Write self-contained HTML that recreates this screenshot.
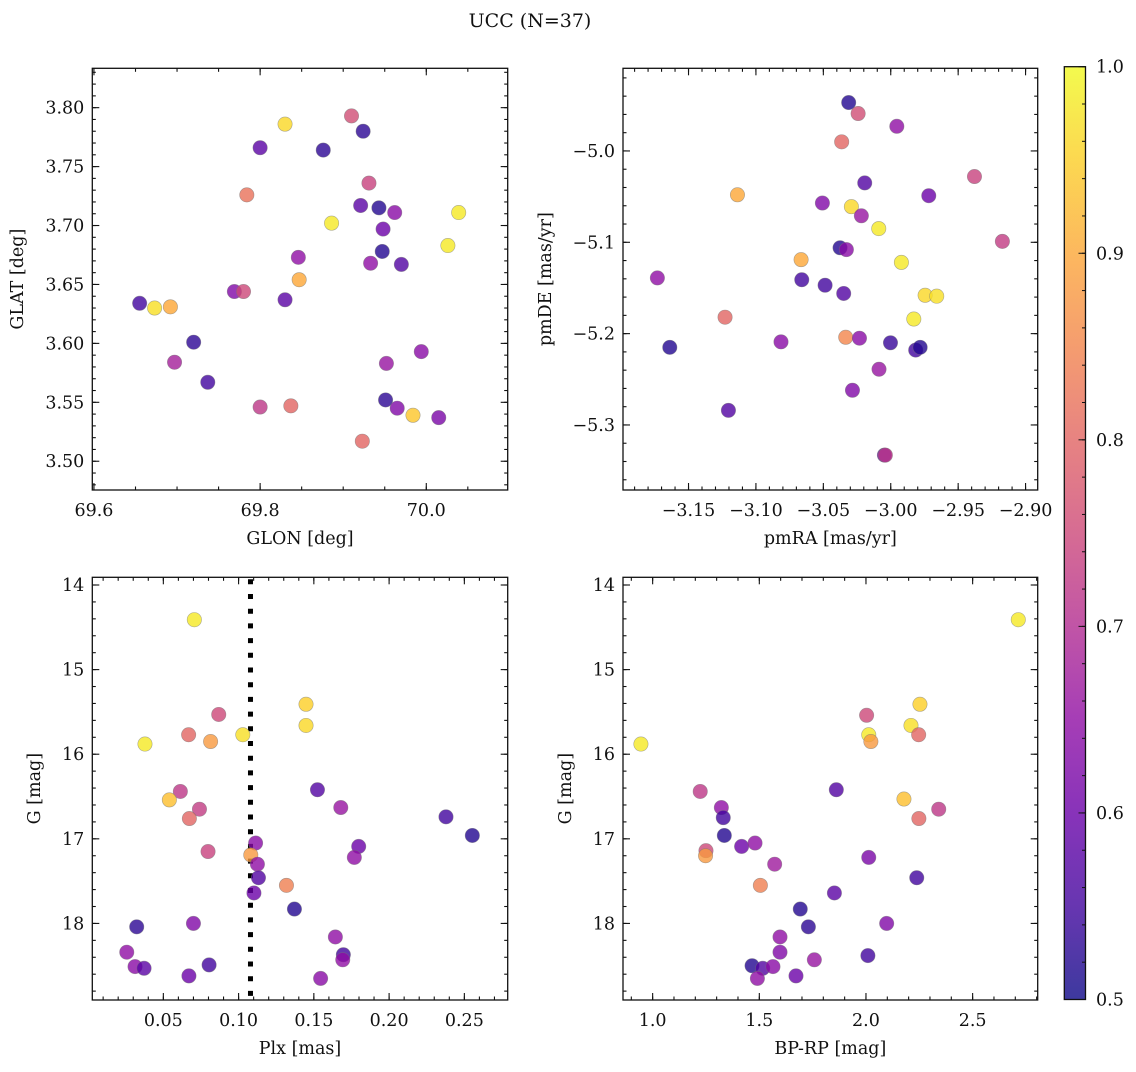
<!DOCTYPE html>
<html><head><meta charset="utf-8"><style>
body{margin:0;background:#fff;width:1136px;height:1067px;overflow:hidden}
svg text{font-family:"DejaVu Serif","Liberation Serif",serif;fill:#111}
</style></head><body>
<svg id="fig" width="1136" height="1067" xmlns="http://www.w3.org/2000/svg">
<defs><linearGradient id="cbgrad" x1="0" y1="1" x2="0" y2="0">
<stop offset="0" stop-color="#0d0887"/></linearGradient></defs>
<text x="530" y="27" font-size="19" text-anchor="middle">UCC (N=37)</text>
</svg>
<script>
// ---- data ----
const glon=[69.655,69.673,69.692,69.697,69.720,69.737,69.769,69.780,69.784,69.800,69.800,69.830,69.830,69.837,69.846,69.847,69.876,69.886,69.910,69.924,69.921,69.923,69.931,69.933,69.943,69.948,69.947,69.951,69.952,69.962,69.965,69.970,69.984,69.994,70.015,70.026,70.039];
const glat=[3.634,3.630,3.631,3.584,3.601,3.567,3.644,3.644,3.726,3.766,3.546,3.786,3.637,3.547,3.673,3.654,3.764,3.702,3.793,3.780,3.717,3.517,3.736,3.668,3.715,3.697,3.678,3.552,3.583,3.711,3.545,3.667,3.539,3.593,3.537,3.683,3.711];
const probPos=[.55,.97,.9,.68,.53,.55,.63,.75,.82,.58,.72,.96,.58,.8,.65,.9,.53,.98,.76,.53,.58,.8,.74,.65,.52,.6,.52,.53,.66,.64,.63,.57,.94,.64,.62,.98,.98];
const pmra=[-3.0312,-3.0242,-2.9955,-3.0364,-2.9379,-3.0193,-3.1137,-2.9718,-3.0507,-3.0292,-3.0218,-3.0089,-2.9172,-3.0376,-3.0329,-3.0665,-2.9921,-3.1731,-3.0660,-3.0487,-3.0349,-2.9745,-2.9659,-2.9829,-3.1229,-3.1639,-3.0814,-3.0334,-3.0232,-3.0002,-2.9815,-2.9782,-3.0087,-3.0284,-3.1204,-3.0047,-3.0040];
const pmde=[-4.947,-4.959,-4.973,-4.990,-5.028,-5.035,-5.048,-5.049,-5.057,-5.061,-5.071,-5.085,-5.099,-5.106,-5.108,-5.119,-5.122,-5.139,-5.141,-5.147,-5.156,-5.158,-5.159,-5.184,-5.182,-5.215,-5.209,-5.204,-5.205,-5.210,-5.218,-5.215,-5.239,-5.262,-5.284,-5.333,-5.333];
const probPm=[.52,.76,.65,.8,.74,.57,.9,.6,.63,.96,.66,.98,.73,.52,.64,.9,.98,.65,.55,.55,.57,.96,.97,.98,.8,.52,.64,.85,.64,.54,.55,.52,.66,.63,.57,.58,.72];
const plx=[0.0706,0.1448,0.1448,0.0868,0.0668,0.0814,0.1028,0.0378,0.1524,0.0613,0.0540,0.1679,0.0740,0.0673,0.2378,0.2553,0.1113,0.0797,0.1081,0.1798,0.1769,0.1125,0.1132,0.1318,0.1102,0.1371,0.0323,0.0700,0.1643,0.0257,0.1696,0.1692,0.0312,0.0372,0.0804,0.0670,0.1545];
const gPlx=[14.41,15.41,15.66,15.53,15.77,15.85,15.77,15.88,16.42,16.44,16.54,16.63,16.65,16.76,16.74,16.96,17.05,17.15,17.19,17.09,17.22,17.30,17.46,17.55,17.64,17.83,18.04,18.00,18.16,18.34,18.37,18.43,18.51,18.53,18.49,18.62,18.65];
const probPlx=[.98,.95,.96,.75,.8,.88,.97,.98,.57,.72,.93,.66,.73,.8,.55,.52,.64,.74,.88,.6,.65,.65,.57,.84,.6,.52,.53,.63,.65,.65,.55,.65,.64,.58,.55,.6,.64];
const plxCut=[0.1079];
const bprp=[2.714,0.945,2.253,2.003,2.211,2.013,2.023,2.247,1.223,1.861,2.178,1.322,2.341,1.331,2.248,1.336,1.417,1.480,1.250,1.248,2.013,1.572,2.238,1.505,1.852,1.692,1.730,2.097,1.597,1.597,2.009,1.758,1.466,1.516,1.564,1.672,1.491];
const gCol=[14.41,15.88,15.41,15.54,15.66,15.77,15.85,15.77,16.44,16.42,16.53,16.63,16.65,16.75,16.76,16.96,17.09,17.05,17.14,17.20,17.22,17.30,17.46,17.55,17.64,17.83,18.04,18.00,18.16,18.34,18.38,18.43,18.50,18.53,18.51,18.62,18.65];
const probCol=[.98,.98,.95,.75,.97,.98,.88,.8,.72,.57,.93,.65,.72,.55,.8,.52,.6,.65,.75,.88,.62,.67,.55,.84,.58,.52,.53,.63,.65,.63,.55,.66,.52,.57,.64,.6,.65];
const cbTicks=[0.5,0.6,0.7,0.8,0.9,1.0];

const FS=17.5;
const NS="http://www.w3.org/2000/svg";
const svg=document.getElementById('fig');
function mk(tag,attrs,parent){const e=document.createElementNS(NS,tag);for(const k in attrs)e.setAttribute(k,attrs[k]);(parent||svg).appendChild(e);return e;}
const stops=[[0,'#0d0887'],[.1,'#41049d'],[.2,'#6a00a8'],[.3,'#8f0da4'],[.4,'#b12a90'],[.5,'#cc4778'],[.6,'#e16462'],[.7,'#f2844b'],[.8,'#fca636'],[.9,'#fcce25'],[1,'#f0f921']];
function hex(h){return [1,3,5].map(i=>parseInt(h.substr(i,2),16));}
function plasma(v){let t=Math.max(0,Math.min(1,(v-0.5)/0.5));for(let i=0;i<stops.length-1;i++){if(t<=stops[i+1][0]){const f=(t-stops[i][0])/(stops[i+1][0]-stops[i][0]);const a=hex(stops[i][1]),b=hex(stops[i+1][1]);return 'rgb('+a.map((x,j)=>Math.round(x+(b[j]-x)*f)).join(',')+')';}}return stops[10][1];}
function fmt(v,d){const s=Math.abs(v).toFixed(d);return (v<0?'\u2212':'')+s;}

function panel(o){
  const g=mk('g',{});
  
  
  const sx=v=>o.L+(v-o.x0)/(o.x1-o.x0)*(o.R-o.L);
  const sy=v=>o.inv? o.T+(v-o.y0)/(o.y1-o.y0)*(o.B-o.T) : o.B-(v-o.y0)/(o.y1-o.y0)*(o.B-o.T);
  const tk=mk('g',{stroke:'#111','stroke-width':1.1},g);
  
  
  for(let v=Math.ceil(o.x0/o.xm-1e-6)*o.xm;v<=o.x1+1e-9;v+=o.xm){const x=sx(v);mk('line',{x1:x,x2:x,y1:o.B,y2:o.B-3.5},tk);mk('line',{x1:x,x2:x,y1:o.T,y2:o.T+3.5},tk);}
  for(let v=Math.ceil(Math.min(o.y0,o.y1)/o.ym-1e-6)*o.ym;v<=Math.max(o.y0,o.y1)+1e-9;v+=o.ym){const y=sy(v);mk('line',{x1:o.L,x2:o.L+3.5,y1:y,y2:y},tk);mk('line',{x1:o.R,x2:o.R-3.5,y1:y,y2:y},tk);}
  o.xt.forEach(v=>{const x=sx(v);mk('line',{x1:x,x2:x,y1:o.B,y2:o.B-7},tk);mk('line',{x1:x,x2:x,y1:o.T,y2:o.T+7},tk);
    const t=mk('text',{x:x,y:o.B+26,'font-size':FS,'text-anchor':'middle'},g);t.textContent=fmt(v,o.xd);
    
    });
  o.yt.forEach(v=>{const y=sy(v);mk('line',{x1:o.L,x2:o.L+7,y1:y,y2:y},tk);mk('line',{x1:o.R,x2:o.R-7,y1:y,y2:y},tk);
    const t=mk('text',{x:o.L-8,y:y+6,'font-size':FS,'text-anchor':'end'},g);t.textContent=fmt(v,o.yd);
    
    });
  if(o.vline!==undefined){const x=sx(o.vline);const l=mk('line',{x1:x,x2:x,y1:o.T+2,y2:o.B,stroke:'#000','stroke-width':5,'stroke-dasharray':'5 9.7'},g);
    
    }
  o.xs.forEach((v,i)=>{const c=mk('circle',{cx:sx(v),cy:sy(o.ys[i]),r:7.2,fill:plasma(o.cs[i]),'fill-opacity':0.8,stroke:'#777','stroke-opacity':0.6,'stroke-width':0.6},g);
    
    });
  const f=mk('rect',{x:o.L,y:o.T,width:o.R-o.L,height:o.B-o.T,fill:'none',stroke:'#111','stroke-width':1.3},g);
  
  
  const xl=mk('text',{x:(o.L+o.R)/2,y:o.B+54,'font-size':FS,'text-anchor':'middle'},g);xl.textContent=o.xlab;
  
  
  const yx=o.ylx, yc=(o.T+o.B)/2;
  const yl=mk('text',{x:yx,y:yc,'font-size':FS,'text-anchor':'middle',transform:'rotate(-90 '+yx+' '+yc+')'},g);yl.textContent=o.ylab;
  
  
}
panel({name:'glon-glat-panel',L:92.3,R:507.7,T:68.3,B:490,x0:69.598,x1:70.098,y0:3.4756,y1:3.8334,xt:[69.6,69.8,70.0],xd:1,xm:0.05,yt:[3.50,3.55,3.60,3.65,3.70,3.75,3.80],yd:2,ym:0.01,xs:glon,ys:glat,cs:probPos,xlab:'GLON [deg]',ylab:'GLAT [deg]',ylx:23});
panel({name:'pm-panel',L:623,R:1037.7,T:68.3,B:490,x0:-3.1986,x1:-2.891,y0:-5.3712,y1:-4.9095,xt:[-3.15,-3.10,-3.05,-3.00,-2.95,-2.90],xd:2,xm:0.01,yt:[-5.3,-5.2,-5.1,-5.0],yd:1,ym:0.02,xs:pmra,ys:pmde,cs:probPm,xlab:'pmRA [mas/yr]',ylab:'pmDE [mas/yr]',ylx:551});
panel({name:'plx-g-panel',L:92.3,R:507.7,T:577.3,B:1000,x0:0.0028,x1:0.2788,y0:13.909,y1:18.905,inv:true,xt:[0.05,0.10,0.15,0.20,0.25],xd:2,xm:0.01,yt:[14,15,16,17,18],yd:0,ym:0.2,xs:plx,ys:gPlx,cs:probPlx,xlab:'Plx [mas]',ylab:'G [mag]',ylx:40,vline:plxCut[0]});
panel({name:'cmd-panel',L:623,R:1037.7,T:577.3,B:1000,x0:0.861,x1:2.805,y0:13.909,y1:18.905,inv:true,xt:[1.0,1.5,2.0,2.5],xd:1,xm:0.1,yt:[14,15,16,17,18],yd:0,ym:0.2,xs:bprp,ys:gCol,cs:probCol,xlab:'BP-RP [mag]',ylab:'G [mag]',ylx:571});
// colorbar
const grad=document.getElementById('cbgrad');grad.innerHTML='';
for(let i=0;i<=20;i++){mk('stop',{offset:i/20,'stop-color':plasma(0.5+i/40)},grad);}
const cbT=66.7,cbB=999.5,cbL=1064.3,cbR=1085.5;
const cb=mk('g',{});


mk('rect',{x:cbL,y:cbT,width:cbR-cbL,height:cbB-cbT,fill:'url(#cbgrad)','fill-opacity':0.8},cb);
mk('rect',{x:cbL,y:cbT,width:cbR-cbL,height:cbB-cbT,fill:'none',stroke:'#111','stroke-width':1.3},cb);
const cy=v=>cbB-(v-0.5)/0.5*(cbB-cbT);
for(let v=0.5;v<=1.0001;v+=0.02){mk('line',{x1:cbR,x2:cbR-3.5,y1:cy(v),y2:cy(v),stroke:'#111'},cb);}
cbTicks.forEach(v=>{mk('line',{x1:cbR,x2:cbR-7,y1:cy(v),y2:cy(v),stroke:'#111'},cb);
  const t=mk('text',{x:1096,y:cy(v)+6,'font-size':FS},cb);t.textContent=v.toFixed(1);
  
  });
</script>
</body></html>
